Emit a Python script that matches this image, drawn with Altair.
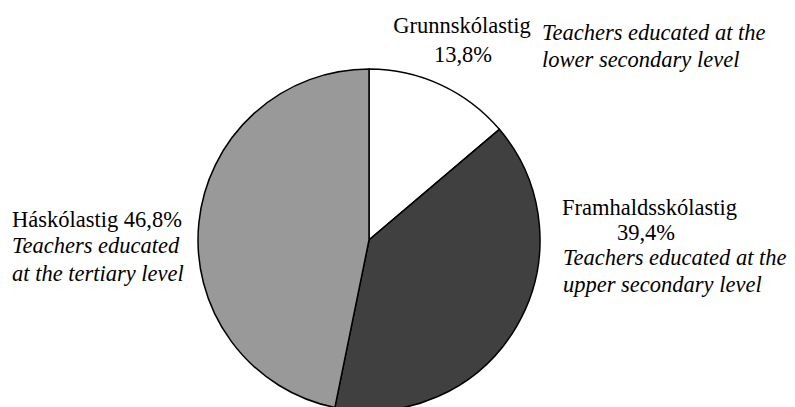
import altair as alt
import pandas as pd

categories = ["Grunnskólastig", "Framhaldsskólastig", "Háskólastig"]
shares = [13.8, 39.4, 46.8]
share_labels = ["13,8%", "39,4%", "46,8%"]
english = [
    ["Teachers educated at the", "lower secondary level"],
    ["Teachers educated at the", "upper secondary level"],
    ["Teachers educated", "at the tertiary level"],
]
colors = ["#ffffff", "#404040", "#999999"]

df = pd.DataFrame({"cat": categories, "share": shares, "idx": list(range(len(categories)))})

FONT = "Liberation Serif"
FS = 22.5

pie = alt.Chart(df).mark_arc(radius=171, stroke="black", strokeWidth=1.5).encode(
    theta=alt.Theta("share:Q", stack=True),
    order=alt.Order("idx:Q"),
    color=alt.Color("cat:N", scale=alt.Scale(domain=categories, range=colors), legend=None),
    x=alt.value(361),
    y=alt.value(232),
)

# annotation anchors (chart coordinates), kept separate from data
layout = [
    # Grunnskólastig
    [("name", 454, 25, "center", False), ("pct", 455, 54, "center", False),
     ("en0", 534, 32, "left", True), ("en1", 534, 59, "left", True)],
    # Framhaldsskólastig
    [("name", 554, 207, "left", False), ("pct", 638, 232, "center", False),
     ("en0", 555, 257, "left", True), ("en1", 555, 284, "left", True)],
    # Háskólastig
    [("namepct", 4, 219, "left", False),
     ("en0", 4, 245, "left", True), ("en1", 4, 273, "left", True)],
]

layers = [pie]
for i, items in enumerate(layout):
    for key, x, y, align, ital in items:
        if key == "name":
            txt = categories[i]
        elif key == "pct":
            txt = share_labels[i]
        elif key == "namepct":
            txt = categories[i] + "  " + share_labels[i]
        elif key == "en0":
            txt = english[i][0]
        else:
            txt = english[i][1]
        layers.append(
            alt.Chart(pd.DataFrame({"t": [txt]})).mark_text(
                font=FONT, fontSize=FS, align=align, baseline="alphabetic",
                fontStyle="italic" if ital else "normal", color="black",
            ).encode(text="t:N", x=alt.value(x), y=alt.value(y))
        )

chart = alt.layer(*layers).properties(width=779, height=400, padding=0).configure_view(stroke=None)

chart.save("out.html", embed_options={"renderer": "svg", "actions": False})
